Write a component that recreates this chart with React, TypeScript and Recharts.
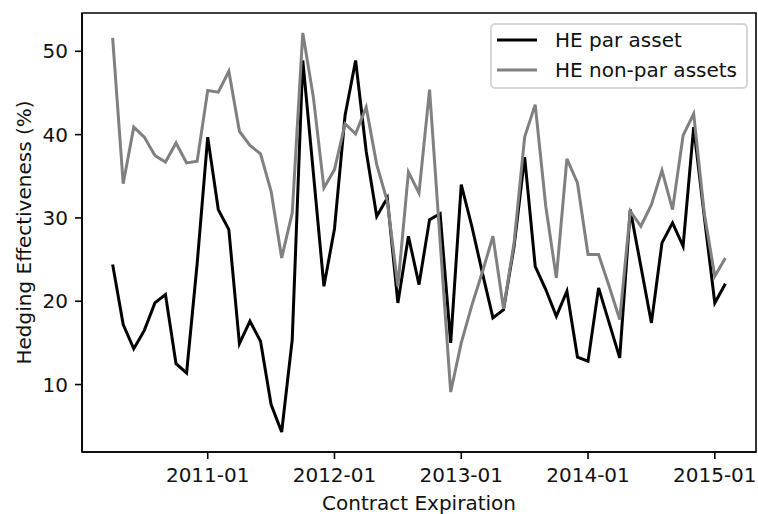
import { LineChart, Line, XAxis, YAxis, ReferenceArea } from "recharts";

// monthly contract expirations
const months = [
  "2010-04", "2010-05", "2010-06", "2010-07", "2010-08", "2010-09", "2010-10", "2010-11", "2010-12",
  "2011-01", "2011-02", "2011-03", "2011-04", "2011-05", "2011-06", "2011-07", "2011-08", "2011-09", "2011-10", "2011-11", "2011-12",
  "2012-01", "2012-02", "2012-03", "2012-04", "2012-05", "2012-06", "2012-07", "2012-08", "2012-09", "2012-10", "2012-11", "2012-12",
  "2013-01", "2013-02", "2013-03", "2013-04", "2013-05", "2013-06", "2013-07", "2013-08", "2013-09", "2013-10", "2013-11", "2013-12",
  "2014-01", "2014-02", "2014-03", "2014-04", "2014-05", "2014-06", "2014-07", "2014-08", "2014-09", "2014-10", "2014-11", "2014-12",
  "2015-01", "2015-02",
];

const hePar = [
  24.4, 17.2, 14.3, 16.5, 19.8, 20.8, 12.5, 11.4, 24.5,
  39.7, 31.0, 28.6, 14.9, 17.6, 15.2, 7.6, 4.3, 15.4, 48.9, 35.4, 21.8,
  28.7, 42.3, 48.9, 38.0, 30.2, 32.4, 19.8, 27.8, 22.0, 29.8, 30.5, 15.0,
  34.0, 29.0, 23.4, 18.0, 19.0, 26.6, 37.3, 24.2, 21.4, 18.2, 21.2, 13.3,
  12.8, 21.6, 17.4, 13.2, 31.0, 24.2, 17.4, 27.0, 29.4, 26.6, 40.9, 30.2,
  19.8, 22.1,
];

const heNonPar = [
  51.6, 34.1, 40.9, 39.7, 37.5, 36.7, 39.0, 36.6, 36.8,
  45.3, 45.1, 47.6, 40.4, 38.7, 37.7, 33.2, 25.2, 30.6, 52.2, 44.5, 33.6,
  35.8, 41.3, 40.1, 43.3, 36.4, 32.0, 21.8, 35.5, 33.0, 45.4, 27.2, 9.1,
  15.0, 19.5, 23.5, 27.8, 19.1, 27.0, 39.7, 43.6, 31.4, 22.8, 37.1, 34.2,
  25.6, 25.6, 21.8, 17.8, 30.8, 29.0, 31.6, 35.7, 31.0, 39.9, 42.5, 30.6,
  23.0, 25.2,
];

const tickLabels = ["2011-01", "2012-01", "2013-01", "2014-01", "2015-01"];
const yTicks = [10, 20, 30, 40, 50];

const data = months.map((m, i) => ({ idx: i, month: m, par: hePar[i], nonPar: heNonPar[i] }));
const xTicks = tickLabels.map((l) => months.indexOf(l));

// matplotlib-style 5% margins
const xPad = (months.length - 1) * 0.05;
const xDomain: [number, number] = [-xPad, months.length - 1 + xPad];
const allVals = [...hePar, ...heNonPar];
const yMin = Math.min(...allVals);
const yMax = Math.max(...allVals);
const yPad = (yMax - yMin) * 0.05;
const yDomain: [number, number] = [yMin - yPad, yMax + yPad];

const FONT = "DejaVu Sans";
const TXT = "#111";

export default function App() {
  return (
    <div style={{ position: "fixed", left: 0, top: 0, width: 758, height: 514, background: "#fff", overflow: "hidden" }}>
      <LineChart width={758} height={514} data={data} margin={{ top: 13, right: 2, bottom: 0, left: 0 }}>
        <XAxis
          type="number"
          dataKey="idx"
          domain={xDomain}
          ticks={xTicks}
          allowDataOverflow
          tickFormatter={(v: number) => months[v] ?? ""}
          height={62}
          tickSize={7}
          tickMargin={9}
          tick={{ fill: TXT, fontSize: 20, fontFamily: FONT }}
          tickLine={{ stroke: "#000", strokeWidth: 1.6 }}
          axisLine={{ stroke: "#000", strokeWidth: 1.6 }}
          label={{
            value: "Contract Expiration",
            content: (props: any) => {
              const vb = props.viewBox || { x: 82, y: 452, width: 674, height: 62 };
              return (
                <text
                  x={vb.x + vb.width / 2}
                  y={vb.y + vb.height - 4.5}
                  textAnchor="middle"
                  fill={TXT}
                  fontSize={20}
                  fontFamily={FONT}
                >
                  Contract Expiration
                </text>
              );
            },
          }}
        />
        <YAxis
          type="number"
          domain={yDomain}
          ticks={yTicks}
          allowDataOverflow
          width={82}
          tickSize={7}
          tickMargin={7}
          tick={{ fill: TXT, fontSize: 20, fontFamily: FONT }}
          tickLine={{ stroke: "#000", strokeWidth: 1.6 }}
          axisLine={{ stroke: "#000", strokeWidth: 1.6 }}
          label={{
            value: "Hedging Effectiveness (%)",
            content: (props: any) => {
              const vb = props.viewBox || { x: 0, y: 13, width: 82, height: 439 };
              const cx = vb.x + 30.6;
              const cy = vb.y + vb.height / 2;
              return (
                <text
                  x={cx}
                  y={cy}
                  textAnchor="middle"
                  transform={`rotate(-90, ${cx}, ${cy})`}
                  fill={TXT}
                  fontSize={20}
                  fontFamily={FONT}
                >
                  Hedging Effectiveness (%)
                </text>
              );
            },
          }}
        />
        {/* top/right spines */}
        <ReferenceArea
          x1={xDomain[0]}
          x2={xDomain[1]}
          y1={yDomain[0]}
          y2={yDomain[1]}
          stroke="#000"
          strokeWidth={1.6}
          fill="none"
          fillOpacity={0}
          ifOverflow="visible"
        />
        <Line
          type="linear"
          dataKey="par"
          stroke="#000000"
          strokeWidth={3}
          dot={false}
          isAnimationActive={false}
        />
        <Line
          type="linear"
          dataKey="nonPar"
          stroke="#808080"
          strokeWidth={3}
          dot={false}
          isAnimationActive={false}
        />
      </LineChart>
      {/* legend box, upper right */}
      <svg
        width={258}
        height={66}
        style={{ position: "absolute", left: 490, top: 22.5, overflow: "visible" }}
      >
        <rect x={1} y={1} width={256} height={64} rx={4} ry={4} fill="rgba(255,255,255,0.8)" stroke="#d6d6d6" strokeWidth={2} />
        <line x1={7} x2={47} y1={17} y2={17} stroke="#000000" strokeWidth={3} />
        <text x={65} y={24.3} fill={TXT} fontSize={20} fontFamily={FONT}>HE par asset</text>
        <line x1={7} x2={47} y1={47} y2={47} stroke="#808080" strokeWidth={3} />
        <text x={65} y={54.3} fill={TXT} fontSize={20} fontFamily={FONT}>HE non-par assets</text>
      </svg>
    </div>
  );
}
